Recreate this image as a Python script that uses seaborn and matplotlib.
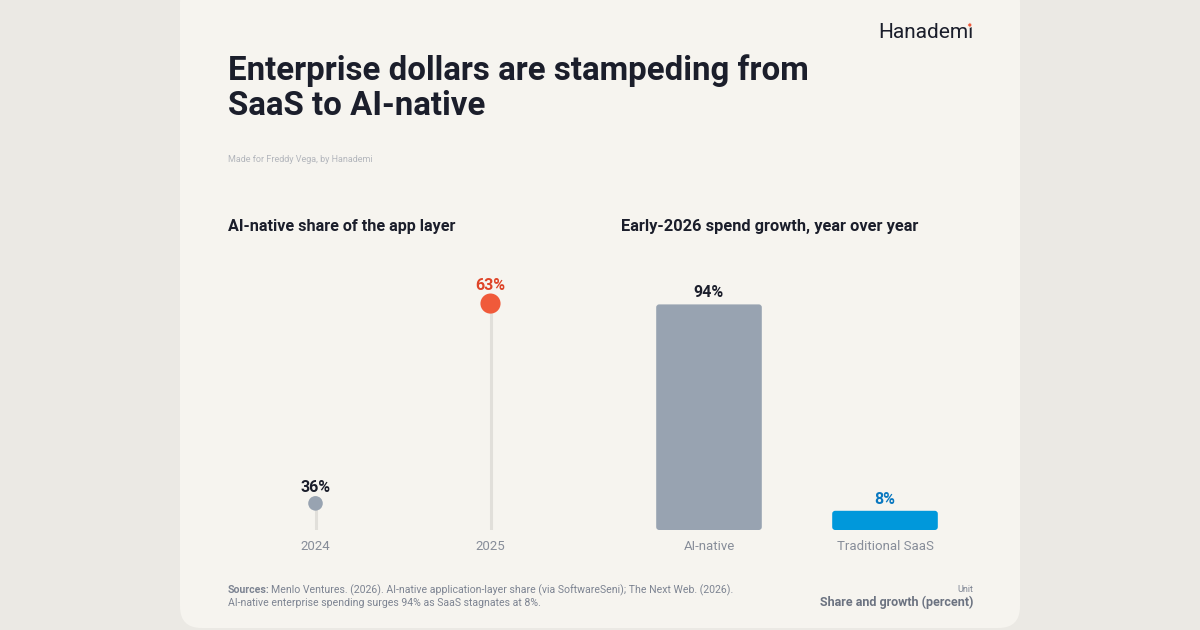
import matplotlib
matplotlib.use("Agg")
import matplotlib.pyplot as plt
from matplotlib.patches import FancyBboxPatch, Circle
import seaborn as sns
import pandas as pd

# data
share_years = ["2024", "2025"]
share_values = [36, 63]
growth_labels = ["AI-native", "Traditional SaaS"]
growth_values = [94, 8]

BG = "#EBE9E4"
CARD = "#F6F4EF"
INK = "#1B1E2B"
MUTED = "#878D99"
FOOT = "#7D8492"
STEM = "#E1DFDA"
GREY = "#98A3B1"
RED = "#F05A3A"
RED_TXT = "#DE4428"
BLUE = "#0098DB"
BLUE_TXT = "#0A78C0"

sns.set_theme(style="white")
plt.rcParams["font.family"] = ["Roboto", "DejaVu Sans"]

W, H = 1200, 630
fig = plt.figure(figsize=(12, 6.3), dpi=100, facecolor=BG)


def fx(px):
    return px / W


def fy(py):
    return 1 - py / H


# card behind everything
card = FancyBboxPatch((fx(180), fy(628)), fx(840), (628 + 20) / H,
                      boxstyle="round,pad=0,rounding_size=0.018",
                      transform=fig.transFigure, facecolor=CARD, edgecolor="none",
                      mutation_aspect=W / H, zorder=-10)
fig.patches.append(card)

# header
fig.text(fx(228), fy(88), "Enterprise dollars are stampeding from\nSaaS to AI-native",
         fontsize=23.8, fontweight="bold", color=INK, va="center", ha="left",
         linespacing=1.12)
fig.text(fx(228), fy(160), "Made for Freddy Vega, by Hanademi", fontsize=6.5,
         color="#B3B6BC", va="center")
logo = fig.text(fx(973), fy(32), "Hanademi", fontsize=15, color=INK,
                ha="right", va="center")

fig.text(fx(228), fy(226), "AI-native share of the app layer", fontsize=11.6,
         fontweight="bold", color=INK, va="center")
fig.text(fx(621), fy(226), "Early-2026 spend growth, year over year", fontsize=11.8,
         fontweight="bold", color=INK, va="center")

# left panel: lollipop
ax1 = fig.add_axes([fx(228), fy(530), fx(578) - fx(228), fy(280) - fy(530)])
ax1.set_facecolor("none")
share_df = pd.DataFrame({"year": share_years, "share": share_values})
low = 32.4
ax1.vlines(range(len(share_years)), low, share_df["share"], color=STEM, lw=2.2, zorder=1)
sns.scatterplot(data=share_df, x="year", y="share", hue="year", size="year",
                palette=[GREY, RED], sizes=[110, 210], legend=False,
                edgecolor="none", ax=ax1, zorder=3)
ax1.set_xlim(-0.5, 1.5)
ax1.set_ylim(low, low + 250 / 7.4)
for i, v in enumerate(share_values):
    ax1.annotate(f"{v}%", (i, v), xytext=(0, 6 if i == 0 else 7.5), textcoords="offset points",
                 ha="center", va="bottom", fontsize=11.5, fontweight="bold",
                 color=INK if i == 0 else RED_TXT)

# right panel: bars
ax2 = fig.add_axes([fx(621), fy(530), fx(973) - fx(621), fy(280) - fy(530)])
ax2.set_facecolor("none")
growth_df = pd.DataFrame({"label": growth_labels, "growth": growth_values})
sns.barplot(data=growth_df, x="label", y="growth", hue="label",
            palette=[GREY, BLUE], width=0.6, legend=False, ax=ax2, saturation=1)
ax2.set_xlim(-0.5, 1.5)
ax2.set_ylim(0, 250 / 2.4)
for p in list(ax2.patches):
    x0, y0, w, h = p.get_x(), p.get_y(), p.get_width(), p.get_height()
    rb = FancyBboxPatch((x0, y0), w, h, boxstyle="round,pad=0,rounding_size=0.017",
                        mutation_aspect=(250 / 2.4) / 250 * (352 / 2),
                        facecolor=p.get_facecolor(), edgecolor="none", zorder=2)
    p.remove()
    ax2.add_patch(rb)
for i, v in enumerate(growth_values):
    ax2.annotate(f"{v}%", (i, v), xytext=(0, 3), textcoords="offset points",
                 ha="center", va="bottom", fontsize=11.5, fontweight="bold",
                 color=INK if i == 0 else BLUE_TXT)

for ax in (ax1, ax2):
    sns.despine(ax=ax, left=True, bottom=True)
    ax.set_yticks([])
    ax.set_xlabel("")
    ax.set_ylabel("")
    ax.tick_params(axis="x", length=0, pad=7, labelsize=9.5, labelcolor=MUTED)

# footer
src = fig.text(fx(228), fy(590), "Sources:", fontsize=7.6, fontweight="bold", color=FOOT,
               va="center")
fig.text(fx(228), fy(603), "AI-native enterprise spending surges 94% as SaaS stagnates at 8%.",
         fontsize=7.6, color=FOOT, va="center")
fig.text(fx(973), fy(589), "Unit", fontsize=6.5, color=FOOT, ha="right", va="center")
fig.text(fx(973), fy(602), "Share and growth (percent)", fontsize=9, fontweight="bold",
         color="#6C7381", ha="right", va="center")

fig.canvas.draw()
sb = src.get_window_extent()
fig.text((sb.x1 + 1) / W, fy(590),
         "Menlo Ventures. (2026). AI-native application-layer share (via SoftwareSeni); "
         "The Next Web. (2026).", fontsize=7.6, color=FOOT, va="center")

# red dot on the logo's i
lb = logo.get_window_extent()
fig.add_artist(Circle((lb.x1 - 3.2, lb.y1 - 2.5), 2.2, transform=None,
                      facecolor=RED, edgecolor=CARD, lw=0.8, zorder=5))

fig.savefig("out.png", dpi=100, facecolor=BG)
